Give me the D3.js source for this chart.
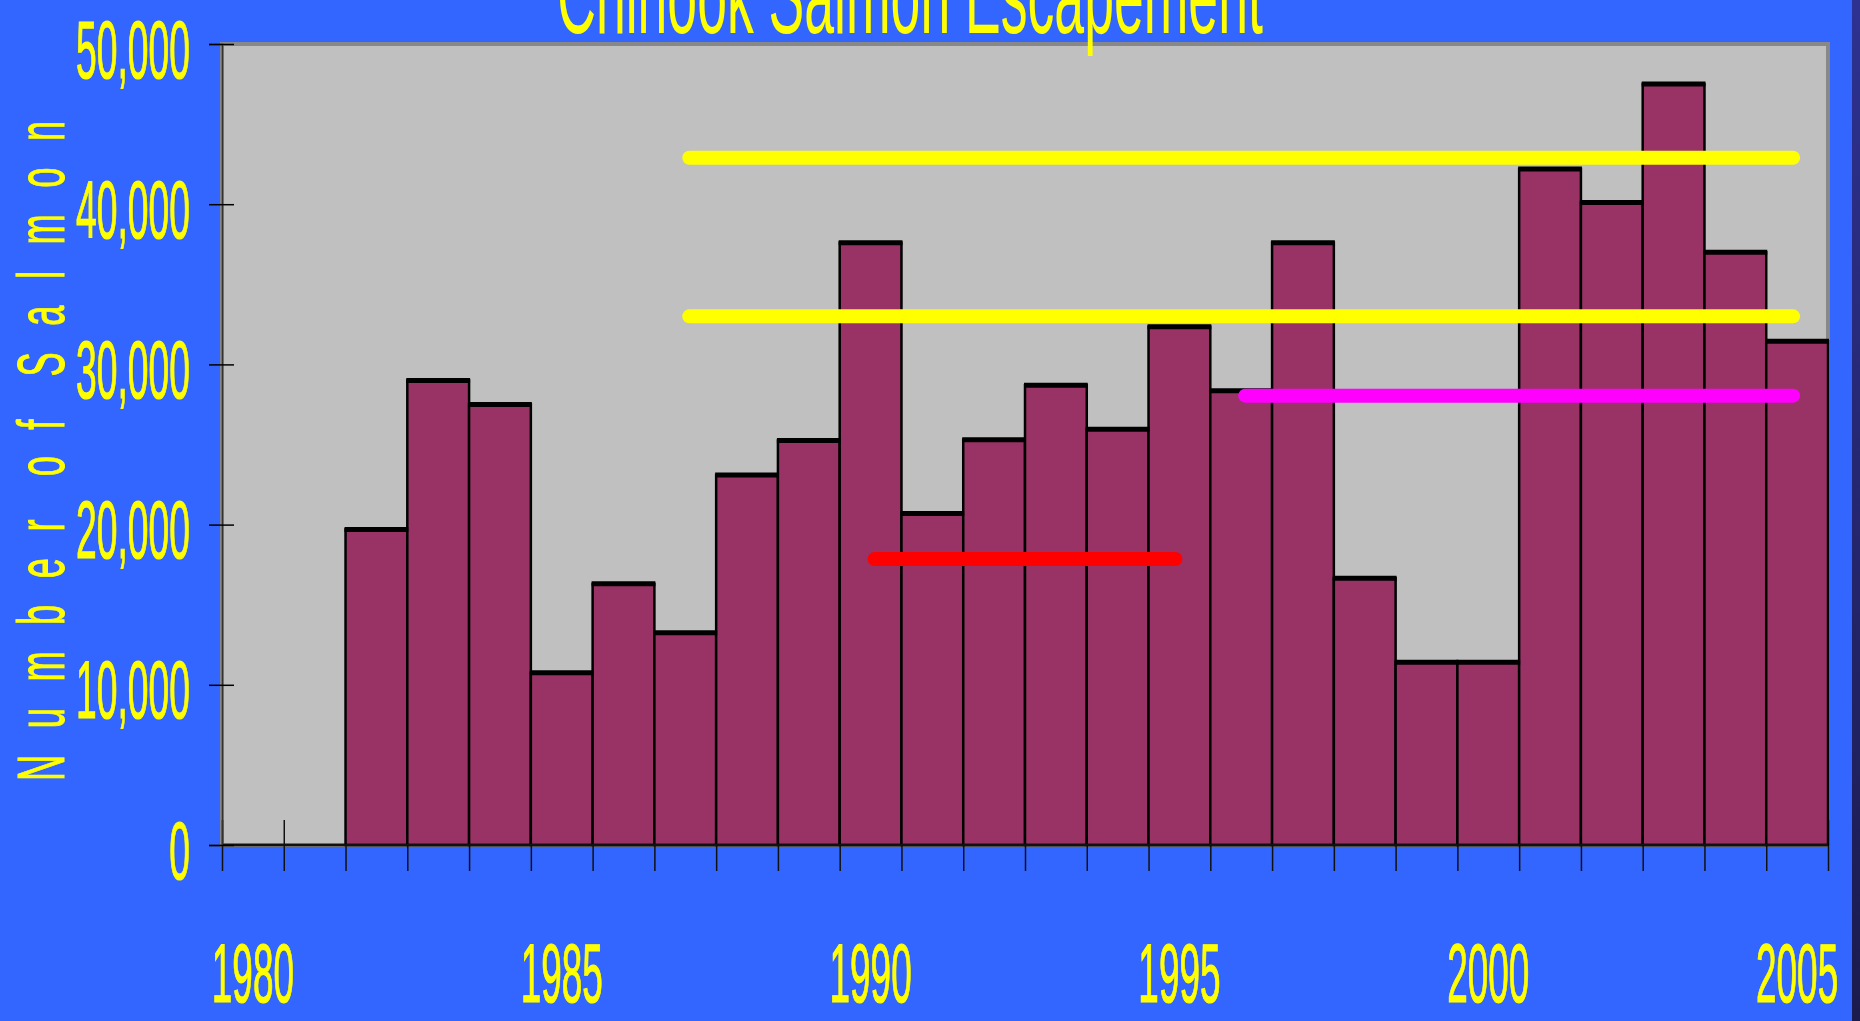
<!DOCTYPE html>
<html>
<head>
<meta charset="utf-8">
<script src="https://cdnjs.cloudflare.com/ajax/libs/d3/7.8.5/d3.min.js"></script>
<style>
  html, body { margin: 0; padding: 0; background: #3366ff; overflow: hidden; }
  svg { display: block; }
  text { font-family: "Liberation Sans", Arial, sans-serif; fill: #ffff00; }
</style>
</head>
<body>
<div id="chart"></div>
<script>
// data
var years = [1980, 1981, 1982, 1983, 1984, 1985, 1986, 1987, 1988, 1989, 1990, 1991, 1992,
             1993, 1994, 1995, 1996, 1997, 1998, 1999, 2000, 2001, 2002, 2003, 2004, 2005];
var escapement = [null, null, 19700, 29000, 27500, 10750, 16300, 13250, 23100, 25250, 37600, 20700, 25300,
                  28700, 25950, 32350, 28350, 37600, 16650, 11400, 11400, 42200, 40100, 47500, 37000, 31450];
var yTicks = [0, 10000, 20000, 30000, 40000, 50000];
var xLabelYears = [1980, 1985, 1990, 1995, 2000, 2005];

// goal lines
var goalValues = [42900, 33000, 28050, 17850];
var goalStart = [1987, 1987, 1996, 1990];
var goalEnd = [2005, 2005, 2005, 1995];
var goalColors = ["#ffff00", "#ffff00", "#ff00ff", "#ff0000"];

var W = 1860, H = 1021;
var plot = { left: 222, right: 1828, top: 44, bottom: 845 };

var svg = d3.select("#chart").append("svg")
  .attr("width", W)
  .attr("height", H);

var defs = svg.append("defs");
var grad = defs.append("linearGradient").attr("id", "edge")
  .attr("x1", 0).attr("y1", 0).attr("x2", 0).attr("y2", 1);
grad.append("stop").attr("offset", "0%").attr("stop-color", "#2e3190");
grad.append("stop").attr("offset", "100%").attr("stop-color", "#1b1b4e");

svg.append("rect").attr("width", W).attr("height", H).attr("fill", "#3366ff");
svg.append("rect").attr("x", 1852).attr("y", 0).attr("width", 8).attr("height", H).attr("fill", "url(#edge)");

var x = d3.scaleBand()
  .domain(years)
  .range([plot.left, plot.right])
  .padding(0);
var xEdge = d3.scaleLinear()
  .domain([1980, 2006])
  .range([plot.left, plot.right]);
var y = d3.scaleLinear()
  .domain([0, 50000])
  .range([plot.bottom, plot.top]);

// plot area
svg.append("rect")
  .attr("x", plot.left).attr("y", plot.top)
  .attr("width", plot.right - plot.left).attr("height", plot.bottom - plot.top)
  .attr("fill", "#c0c0c0")
  .attr("stroke", "#888888")
  .attr("stroke-width", 4);

// x ticks on band edges
var xTickAxis = d3.axisBottom(xEdge)
  .tickValues(d3.range(1980, 2007))
  .tickSize(26)
  .tickFormat("");
var gxt = svg.append("g")
  .attr("transform", "translate(0," + plot.bottom + ")")
  .call(xTickAxis);
gxt.select(".domain").remove();
gxt.selectAll(".tick line")
  .attr("y1", -25)
  .attr("stroke", "#111")
  .attr("stroke-width", 1.5);

// bars
var barData = years.map(function (d, i) { return { year: d, value: escapement[i] }; })
  .filter(function (d) { return d.value != null; });

svg.selectAll(".bar")
  .data(barData)
  .enter().append("rect")
  .attr("class", "bar")
  .attr("x", function (d) { return x(d.year); })
  .attr("width", x.bandwidth())
  .attr("y", function (d) { return y(d.value); })
  .attr("height", function (d) { return plot.bottom - y(d.value); })
  .attr("fill", "#993366")
  .attr("stroke", "#000")
  .attr("stroke-width", 2.5);

svg.selectAll(".bartop")
  .data(barData)
  .enter().append("line")
  .attr("class", "bartop")
  .attr("x1", function (d) { return x(d.year) - 1; })
  .attr("x2", function (d) { return x(d.year) + x.bandwidth() + 1; })
  .attr("y1", function (d) { return y(d.value); })
  .attr("y2", function (d) { return y(d.value); })
  .attr("stroke", "#000")
  .attr("stroke-width", 5);

// axis lines
svg.append("line")
  .attr("x1", plot.left).attr("x2", plot.right)
  .attr("y1", plot.bottom).attr("y2", plot.bottom)
  .attr("stroke", "#111").attr("stroke-width", 2.5);

// y axis
var yAxis = d3.axisLeft(y)
  .tickValues(yTicks)
  .tickSize(13)
  .tickFormat(d3.format(","));
var gy = svg.append("g")
  .attr("transform", "translate(" + plot.left + ",0)")
  .call(yAxis);
gy.select(".domain")
  .attr("stroke", "#333")
  .attr("stroke-width", 1.5);
gy.selectAll(".tick line")
  .attr("x2", -13).attr("x1", 12)
  .attr("stroke", "#000")
  .attr("stroke-width", 1.5);
gy.selectAll(".tick text")
  .attr("x", -32 / 0.46)
  .attr("y", 33)
  .attr("dy", null)
  .attr("transform", "scale(0.46,1)")
  .style("font-size", "81px")
  .style("text-anchor", "end")
  .style("stroke", "#ffff00")
  .style("stroke-width", 1.2)
  .attr("fill", "#ffff00");
gy.attr("font-family", null).attr("font-size", null);

// x labels at band centres
var xAxis = d3.axisBottom(x)
  .tickValues(xLabelYears)
  .tickSize(0);
var gx = svg.append("g")
  .attr("transform", "translate(0," + plot.bottom + ")")
  .call(xAxis);
gx.select(".domain").remove();
gx.selectAll(".tick text")
  .attr("y", 157)
  .attr("dy", null)
  .attr("transform", "scale(0.44,1)")
  .attr("x", 0)
  .style("font-size", "84px")
  .style("stroke", "#ffff00")
  .style("stroke-width", 1.2)
  .attr("fill", "#ffff00");
gx.attr("font-family", null).attr("font-size", null);

// goal lines
svg.selectAll(".goal")
  .data(goalValues)
  .enter().append("line")
  .attr("class", "goal")
  .attr("x1", function (d, i) { return x(goalStart[i]) + x.bandwidth() / 2 + 4; })
  .attr("x2", function (d, i) { return x(goalEnd[i]) + x.bandwidth() / 2 - 4; })
  .attr("y1", function (d) { return y(d); })
  .attr("y2", function (d) { return y(d); })
  .attr("stroke", function (d, i) { return goalColors[i]; })
  .attr("stroke-width", 14)
  .attr("stroke-linecap", "round");

// title
svg.append("text")
  .attr("transform", "translate(910,33) scale(0.487,1)")
  .style("font-size", "110px")
  .style("text-anchor", "middle")
  .text("Chinook Salmon Escapement");

// y axis title
svg.append("text")
  .attr("transform", "translate(64,781) rotate(-90) scale(0.55,1)")
  .style("font-size", "66px")
  .style("letter-spacing", (26.5 / 0.55) + "px")
  .style("word-spacing", (-20 / 0.55) + "px")
  .style("stroke", "#ffff00")
  .style("stroke-width", 1)
  .style("text-anchor", "start")
  .text("Number of Salmon");
</script>
</body>
</html>
